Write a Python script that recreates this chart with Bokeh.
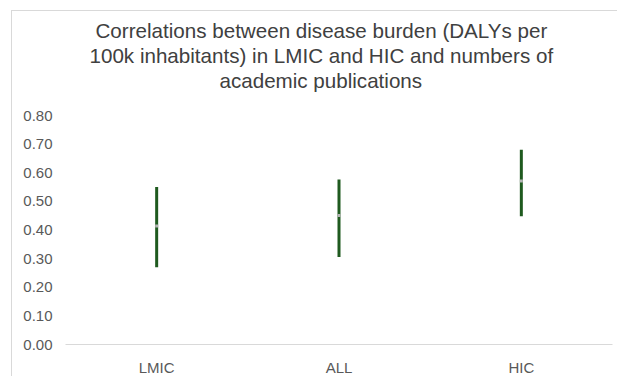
from bokeh.plotting import figure
from bokeh.models import FactorRange, Range1d, Title, FixedTicker, ColumnDataSource, CustomJSTickFormatter
from bokeh.embed import file_html
from bokeh.resources import INLINE

categories = ["LMIC", "ALL", "HIC"]
low_values = [0.27, 0.306, 0.448]
high_values = [0.55, 0.576, 0.68]
mid_values = [0.414, 0.451, 0.571]
y_ticks = [0.0, 0.1, 0.2, 0.3, 0.4, 0.5, 0.6, 0.7, 0.8]
title_lines = ["Correlations between disease burden (DALYs per",
               "100k inhabitants) in LMIC and HIC and numbers of",
               "academic publications"]

src = ColumnDataSource(dict(cat=categories, low=low_values, high=high_values, mid=mid_values))

p = figure(frame_width=547, frame_height=229, x_range=FactorRange(factors=categories, range_padding=0),
           y_range=Range1d(0, 0.8), output_backend="svg", toolbar_location=None,
           min_border_left=53, min_border_right=5, min_border_top=104, min_border_bottom=20,
           margin=(10, 0, 0, 11), title=None)
p.styles = {"border-top": "1px solid #d9d9d9", "border-left": "1px solid #d9d9d9"}
p.outline_line_color = None
p.xgrid.grid_line_color = None
p.ygrid.grid_line_color = None

# spacer between plot area and the title block
p.add_layout(Title(text=" ", text_font_size="10px", standoff=11), "above")
# title lines (nearest to the frame first); offsets put each line's left edge
title_offsets = [154, 24, 30]
for line, off in zip(reversed(title_lines), title_offsets):
    p.add_layout(Title(text=line, align="left", offset=off, standoff=0,
                       text_font="Liberation Sans", text_font_size="20.6px",
                       text_font_style="normal", text_color="#404040"), "above")

p.segment(x0="cat", y0="low", x1="cat", y1="high", source=src, line_color="#1f5a1f", line_width=3)
p.scatter(x="cat", y="mid", source=src, marker="square", size=3, fill_color="#b4b4b4", line_color=None)

p.yaxis.ticker = FixedTicker(ticks=y_ticks)
p.yaxis.formatter = CustomJSTickFormatter(code="return tick.toFixed(2);")
p.yaxis.axis_line_color = None
p.xaxis.axis_line_color = "#d9d9d9"
p.xaxis.axis_line_width = 1
p.yaxis.major_label_standoff = 13
p.xaxis.major_label_standoff = 14
for ax in (p.xaxis, p.yaxis):
    ax.major_tick_line_color = None
    ax.minor_tick_line_color = None
    ax.major_tick_out = 0
    ax.major_tick_in = 0
    ax.minor_tick_out = 0
    ax.major_label_text_font = "Liberation Sans"
    ax.major_label_text_font_size = "15px"
    ax.major_label_text_color = "#595959"

open("out.html", "w").write(file_html(p, INLINE))
